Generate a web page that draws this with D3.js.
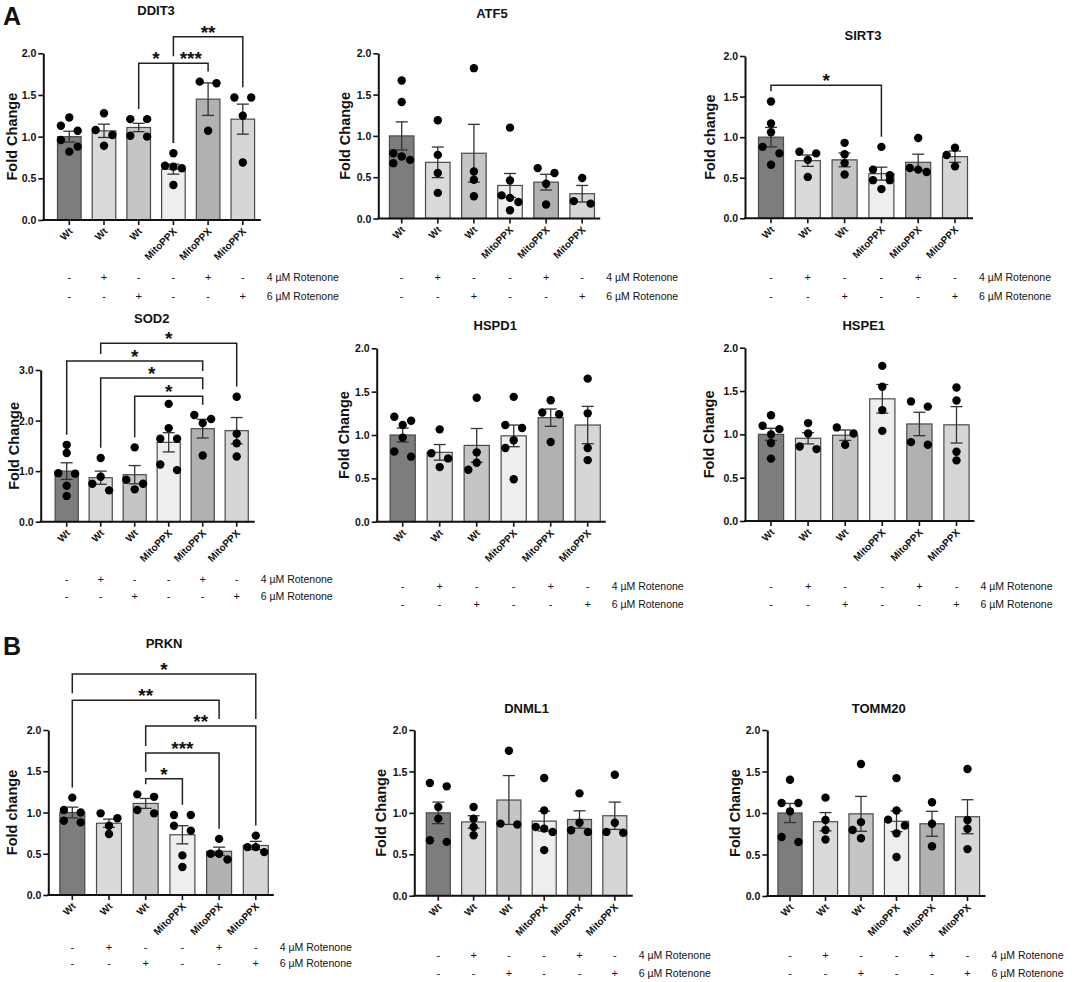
<!DOCTYPE html>
<html>
<head>
<meta charset="utf-8">
<script src="https://cdn.jsdelivr.net/npm/d3@7"></script>
<style>
body { margin: 0; background: #fff; }
svg text { font-family: "Liberation Sans", Arial, sans-serif; fill: #111; }
</style>
</head>
<body>
<div id="fig"></div>
<script>
// ---- data ----
var groups = ["Wt", "Wt", "Wt", "MitoPPX", "MitoPPX", "MitoPPX"];
var rot4 = ["-", "+", "-", "-", "+", "-"];
var rot6 = ["-", "-", "+", "-", "-", "+"];
var rotLabels = ["4 \u00b5M Rotenone", "6 \u00b5M Rotenone"];
var ticks2 = [0, 0.5, 1, 1.5, 2];
var ticks3 = [0, 1, 2, 3];

var ddit3Mean = [1.00, 1.07, 1.11, 0.61, 1.45, 1.21];
var ddit3Sem = [0.065, 0.08, 0.05, 0.06, 0.195, 0.18];
var ddit3Points = [
    [1.23, 1.13, 1.07, 0.96, 0.88, 0.82],
    [1.28, 1.08, 1.02, 0.89],
    [1.21, 1.21, 1.00, 1.01],
    [0.80, 0.64, 0.62, 0.65, 0.42],
    [1.66, 1.64, 1.07],
    [1.47, 1.47, 1.25, 0.69]
];
var ddit3Sig = [[2, 3, "*", 1.88], [3, 4, "***", 1.88], [3, 5, "**", 2.2]];

var atf5Mean = [1.00, 0.68, 0.79, 0.40, 0.44, 0.30];
var atf5Sem = [0.17, 0.185, 0.35, 0.145, 0.095, 0.10];
var atf5Points = [
    [1.67, 1.41, 0.79, 0.75, 0.71, 0.67],
    [1.19, 0.77, 0.55, 0.31],
    [1.82, 0.57, 0.47, 0.27],
    [1.10, 0.46, 0.28, 0.25, 0.20, 0.10],
    [0.61, 0.55, 0.42, 0.17],
    [0.49, 0.21, 0.18]
];

var sirt3Mean = [1.00, 0.71, 0.72, 0.55, 0.69, 0.76];
var sirt3Sem = [0.12, 0.07, 0.085, 0.08, 0.10, 0.07];
var sirt3Points = [
    [1.44, 1.17, 1.06, 0.88, 0.80, 0.66],
    [0.82, 0.80, 0.72, 0.51],
    [0.93, 0.79, 0.68, 0.54],
    [0.88, 0.60, 0.53, 0.47, 0.47, 0.36],
    [0.99, 0.62, 0.60, 0.57],
    [0.87, 0.78, 0.64]
];
var sirt3Sig = [[0, 3, "*", 1.64]];

var sod2Mean = [1.00, 0.87, 0.93, 1.57, 1.84, 1.80];
var sod2Sem = [0.165, 0.13, 0.18, 0.19, 0.185, 0.26];
var sod2Points = [
    [1.52, 1.36, 0.96, 0.95, 0.71, 0.51],
    [1.26, 0.89, 0.75, 0.62],
    [1.47, 0.83, 0.75, 0.64],
    [2.33, 1.85, 1.64, 1.64, 1.13, 1.02],
    [2.11, 2.03, 1.95, 1.31],
    [2.47, 1.74, 1.55, 1.29]
];
var sod2Sig = [[2, 4, "*", 2.48], [1, 4, "*", 2.84], [0, 4, "*", 3.18], [1, 5, "*", 3.53]];

var hspd1Mean = [1.00, 0.80, 0.88, 0.99, 1.20, 1.115];
var hspd1Sem = [0.08, 0.09, 0.195, 0.125, 0.10, 0.215];
var hspd1Points = [
    [1.21, 1.165, 1.115, 0.97, 0.81, 0.75],
    [1.065, 0.79, 0.73, 0.63],
    [1.43, 0.80, 0.68, 0.60],
    [1.44, 1.115, 1.08, 0.94, 0.85, 0.49],
    [1.40, 1.26, 1.24, 0.92],
    [1.65, 1.25, 0.85, 0.71]
];

var hspe1Mean = [1.00, 0.955, 0.99, 1.41, 1.12, 1.11];
var hspe1Sem = [0.07, 0.065, 0.06, 0.165, 0.135, 0.21];
var hspe1Points = [
    [1.22, 1.10, 1.06, 1.00, 0.90, 0.72],
    [1.13, 1.01, 0.86, 0.83],
    [1.08, 1.01, 0.88],
    [1.79, 1.55, 1.28, 1.04],
    [1.38, 1.32, 0.91, 0.88],
    [1.54, 1.39, 0.80, 0.70]
];

var prknMean = [1.00, 0.87, 1.11, 0.73, 0.53, 0.60];
var prknSem = [0.065, 0.05, 0.06, 0.11, 0.05, 0.05];
var prknPoints = [
    [1.18, 1.03, 1.00, 0.90, 0.88],
    [0.99, 0.93, 0.84, 0.74],
    [1.22, 1.19, 1.03, 0.99],
    [0.97, 0.97, 0.84, 0.78, 0.48, 0.34],
    [0.68, 0.50, 0.50, 0.43],
    [0.72, 0.58, 0.58, 0.52]
];
var prknSig = [[2, 3, "*", 1.41], [2, 4, "***", 1.72], [2, 5, "**", 2.05], [0, 4, "**", 2.36], [0, 5, "*", 2.68]];

var dnml1Mean = [1.00, 0.89, 1.155, 0.90, 0.92, 0.965];
var dnml1Sem = [0.13, 0.075, 0.295, 0.12, 0.105, 0.165];
var dnml1Points = [
    [1.36, 1.32, 1.07, 0.93, 0.67, 0.65],
    [1.07, 0.93, 0.83, 0.73],
    [1.75, 0.87, 0.86],
    [1.42, 1.03, 0.83, 0.81, 0.77, 0.55],
    [1.235, 0.88, 0.79, 0.77],
    [1.46, 0.88, 0.77, 0.76]
];

var tomm20Mean = [1.00, 0.895, 0.99, 0.90, 0.87, 0.955];
var tomm20Sem = [0.115, 0.11, 0.21, 0.125, 0.15, 0.205];
var tomm20Points = [
    [1.40, 1.12, 1.12, 1.02, 0.71, 0.65],
    [1.185, 0.915, 0.795, 0.68],
    [1.59, 0.89, 0.795, 0.695],
    [1.42, 1.03, 0.92, 0.85, 0.755, 0.47],
    [1.13, 0.87, 0.60],
    [1.53, 0.915, 0.81, 0.565]
];

// ---- styling / layout ----
var barFill = ["#7d7d7d", "#dadada", "#c5c5c5", "#eeeeee", "#b1b1b1", "#d6d6d6"];
var dot = 8.4;

var panels = [
    { gene: "DDIT3", mean: ddit3Mean, sem: ddit3Sem, pts: ddit3Points, sig: ddit3Sig, ticks: ticks2, ylab: "Fold Change",
      ax: 43.3, base: 220, top: 53.3, first: 69.3, step: 34.7, titleY: 15, rowY: [281, 300], labX: 17 },
    { gene: "ATF5", mean: atf5Mean, sem: atf5Sem, pts: atf5Points, sig: [], ticks: ticks2, ylab: "Fold Change",
      ax: 378.3, base: 218.5, top: 53.3, first: 401.7, step: 36.1, titleY: 18, rowY: [281, 300], labX: 350 },
    { gene: "SIRT3", mean: sirt3Mean, sem: sirt3Sem, pts: sirt3Points, sig: sirt3Sig, ticks: ticks2, ylab: "Fold change",
      ax: 745, base: 218.3, top: 56, first: 771, step: 36.8, titleY: 40, rowY: [281, 300], labX: 715 },
    { gene: "SOD2", mean: sod2Mean, sem: sod2Sem, pts: sod2Points, sig: sod2Sig, ticks: ticks3, ylab: "Fold Change",
      ax: 40.7, base: 521.7, top: 370, first: 66.7, step: 34, titleY: 323, rowY: [583, 600], labX: 19 },
    { gene: "HSPD1", mean: hspd1Mean, sem: hspd1Sem, pts: hspd1Points, sig: [], ticks: ticks2, ylab: "Fold Change",
      ax: 376.7, base: 521.7, top: 348.3, first: 402.7, step: 37, titleY: 330, rowY: [590, 608], labX: 349 },
    { gene: "HSPE1", mean: hspe1Mean, sem: hspe1Sem, pts: hspe1Points, sig: [], ticks: ticks2, ylab: "Fold Change",
      ax: 745, base: 521, top: 347.7, first: 771, step: 37.1, titleY: 330, rowY: [590, 608], labX: 714 },
    { gene: "PRKN", mean: prknMean, sem: prknSem, pts: prknPoints, sig: prknSig, ticks: ticks2, ylab: "Fold change",
      ax: 48.3, base: 895, top: 730, first: 72.3, step: 36.7, titleY: 648, rowY: [951, 967], labX: 17 },
    { gene: "DNML1", mean: dnml1Mean, sem: dnml1Sem, pts: dnml1Points, sig: [], ticks: ticks2, ylab: "Fold Change",
      ax: 414.3, base: 895.7, top: 730, first: 438.3, step: 35.3, titleY: 713, rowY: [959, 977], labX: 386 },
    { gene: "TOMM20", mean: tomm20Mean, sem: tomm20Sem, pts: tomm20Points, sig: [], ticks: ticks2, ylab: "Fold Change",
      ax: 767.3, base: 896, top: 730, first: 790, step: 35.5, titleY: 713, rowY: [959, 977], labX: 740 }
];

var svg = d3.select("#fig").append("svg")
    .attr("width", 1072)
    .attr("height", 982);

svg.append("text").attr("x", 3).attr("y", 25).text("A")
    .style("font-size", "25px").style("font-weight", "bold");
svg.append("text").attr("x", 3).attr("y", 655).text("B")
    .style("font-size", "25px").style("font-weight", "bold");

// lay points of one group out in rows, GraphPad style
function swarm(vals, y) {
    var pts = vals.map(function (v) { return { v: v, py: y(v), dx: 0 }; })
        .sort(function (a, b) { return a.py - b.py; });
    var rows = [];
    pts.forEach(function (p) {
        var r = rows[rows.length - 1];
        if (r && p.py - r[0].py < dot * 0.8) r.push(p);
        else rows.push([p]);
    });
    var placed = [];
    rows.forEach(function (r) {
        var k = r.length;
        var offs = k === 2 ? [-1, 1] : d3.range(k).map(function (i) { return i - (k - 1) / 2; });
        r.forEach(function (p, i) {
            p.dx = offs[i] * dot;
            if (k === 1) {
                var cands = [0, -dot, dot, -2 * dot, 2 * dot];
                for (var c = 0; c < cands.length; c++) {
                    var ok = placed.every(function (q) {
                        return Math.hypot(q.dx - cands[c], q.py - p.py) >= dot * 0.95;
                    });
                    if (ok) { p.dx = cands[c]; break; }
                }
            }
            placed.push(p);
        });
    });
    return pts;
}

panels.forEach(drawPanel);

function drawPanel(p) {
    var n = groups.length;
    var yMax = p.ticks[p.ticks.length - 1];
    var y = d3.scaleLinear().domain([0, yMax]).range([p.base, p.top]);
    var x = d3.scaleBand().domain(d3.range(n))
        .range([p.first - p.step / 2, p.first + (n - 0.5) * p.step])
        .paddingInner(0.32).paddingOuter(0.16);
    var cx = function (i) { return x(i) + x.bandwidth() / 2; };
    var last = cx(n - 1);
    var g = svg.append("g");

    // bars
    g.selectAll(".bar").data(p.mean).enter().append("rect")
        .attr("x", function (d, i) { return x(i); })
        .attr("y", function (d) { return y(d); })
        .attr("width", x.bandwidth())
        .attr("height", function (d) { return p.base - y(d); })
        .attr("fill", function (d, i) { return barFill[i]; })
        .attr("stroke", "#4a4a4a")
        .attr("stroke-width", 1.2);

    // SEM error bars
    var eb = g.selectAll(".err").data(p.mean).enter().append("g")
        .attr("stroke", "#333").attr("stroke-width", 1.3);
    eb.append("line")
        .attr("x1", function (d, i) { return cx(i); })
        .attr("x2", function (d, i) { return cx(i); })
        .attr("y1", function (d, i) { return y(d - p.sem[i]); })
        .attr("y2", function (d, i) { return y(d + p.sem[i]); });
    [-1, 1].forEach(function (s) {
        eb.append("line")
            .attr("x1", function (d, i) { return cx(i) - 6; })
            .attr("x2", function (d, i) { return cx(i) + 6; })
            .attr("y1", function (d, i) { return y(d + s * p.sem[i]); })
            .attr("y2", function (d, i) { return y(d + s * p.sem[i]); });
    });

    // individual points
    p.pts.forEach(function (vals, i) {
        g.selectAll(null).data(swarm(vals, y)).enter().append("circle")
            .attr("cx", function (d) { return cx(i) + d.dx; })
            .attr("cy", function (d) { return d.py; })
            .attr("r", 4.2)
            .attr("fill", "#000");
    });

    // y axis
    var yAxis = d3.axisLeft(y).tickValues(p.ticks).tickFormat(d3.format(".1f"))
        .tickSize(5).tickSizeOuter(0);
    var ya = g.append("g").attr("transform", "translate(" + p.ax + ",0)").call(yAxis);
    ya.select(".domain").attr("stroke", "#111").attr("stroke-width", 2);
    ya.selectAll(".tick line").attr("stroke", "#111").attr("stroke-width", 1.6);
    ya.selectAll(".tick text").attr("x", -7).attr("dy", "0.34em")
        .style("font-size", "10.5px").style("font-weight", "bold").attr("fill", "#111");

    // x axis: ticks and rotated labels, baseline drawn from the y axis
    var xAxis = d3.axisBottom(x).tickSize(5).tickSizeOuter(0)
        .tickFormat(function (i) { return groups[i]; });
    var xa = g.append("g").attr("transform", "translate(0," + p.base + ")").call(xAxis);
    xa.select(".domain").remove();
    xa.selectAll(".tick line").attr("stroke", "#111").attr("stroke-width", 1.6);
    xa.selectAll(".tick text")
        .attr("x", 0).attr("y", 0).attr("dy", null)
        .attr("transform", "translate(4,12) rotate(-45)")
        .attr("text-anchor", "end")
        .style("font-size", "10px").style("font-weight", "bold").attr("fill", "#111");
    g.append("line")
        .attr("x1", p.ax - 1).attr("x2", last + 18)
        .attr("y1", p.base).attr("y2", p.base)
        .attr("stroke", "#111").attr("stroke-width", 2);

    // y label and title
    g.append("text")
        .attr("transform", "translate(" + p.labX + "," + ((p.base + p.top) / 2) + ") rotate(-90)")
        .attr("text-anchor", "middle")
        .style("font-size", "14.5px").style("font-weight", "bold")
        .text(p.ylab);
    g.append("text")
        .attr("x", (p.first + last) / 2).attr("y", p.titleY)
        .attr("text-anchor", "middle")
        .style("font-size", "13px").style("font-weight", "bold")
        .text(p.gene);

    // treatment rows
    [rot4, rot6].forEach(function (row, r) {
        g.selectAll(null).data(row).enter().append("text")
            .attr("x", function (d, i) { return cx(i); })
            .attr("y", p.rowY[r])
            .attr("text-anchor", "middle")
            .attr("fill", "#111")
            .style("font-size", "11px")
            .text(function (d) { return d; });
        g.append("text")
            .attr("x", last + 24).attr("y", p.rowY[r])
            .attr("fill", "#111")
            .style("font-size", "10.5px")
            .text(rotLabels[r]);
    });

    // significance brackets
    var topOf = p.pts.map(function (vals, i) {
        return Math.min(y(d3.max(vals)) - 4.2, y(p.mean[i] + p.sem[i]));
    });
    p.sig.forEach(function (s) {
        var L = y(s[3]);
        var legEnd = function (gi) {
            var stop = topOf[gi] - 6;
            p.sig.forEach(function (o) {
                var Lo = y(o[3]);
                if (Lo > L + 0.5 && o[0] <= gi && o[1] >= gi) stop = Math.min(stop, Lo - 7);
            });
            return stop;
        };
        var x1 = cx(s[0]), x2 = cx(s[1]);
        g.append("path")
            .attr("d", "M" + x1 + "," + legEnd(s[0]) + "V" + L + "H" + x2 + "V" + legEnd(s[1]))
            .attr("fill", "none")
            .attr("stroke", "#222")
            .attr("stroke-width", 1.5);
        g.append("text")
            .attr("x", (x1 + x2) / 2).attr("y", L + 2)
            .attr("text-anchor", "middle")
            .style("font-size", "19px").style("font-weight", "bold")
            .text(s[2]);
    });
}
</script>
</body>
</html>
